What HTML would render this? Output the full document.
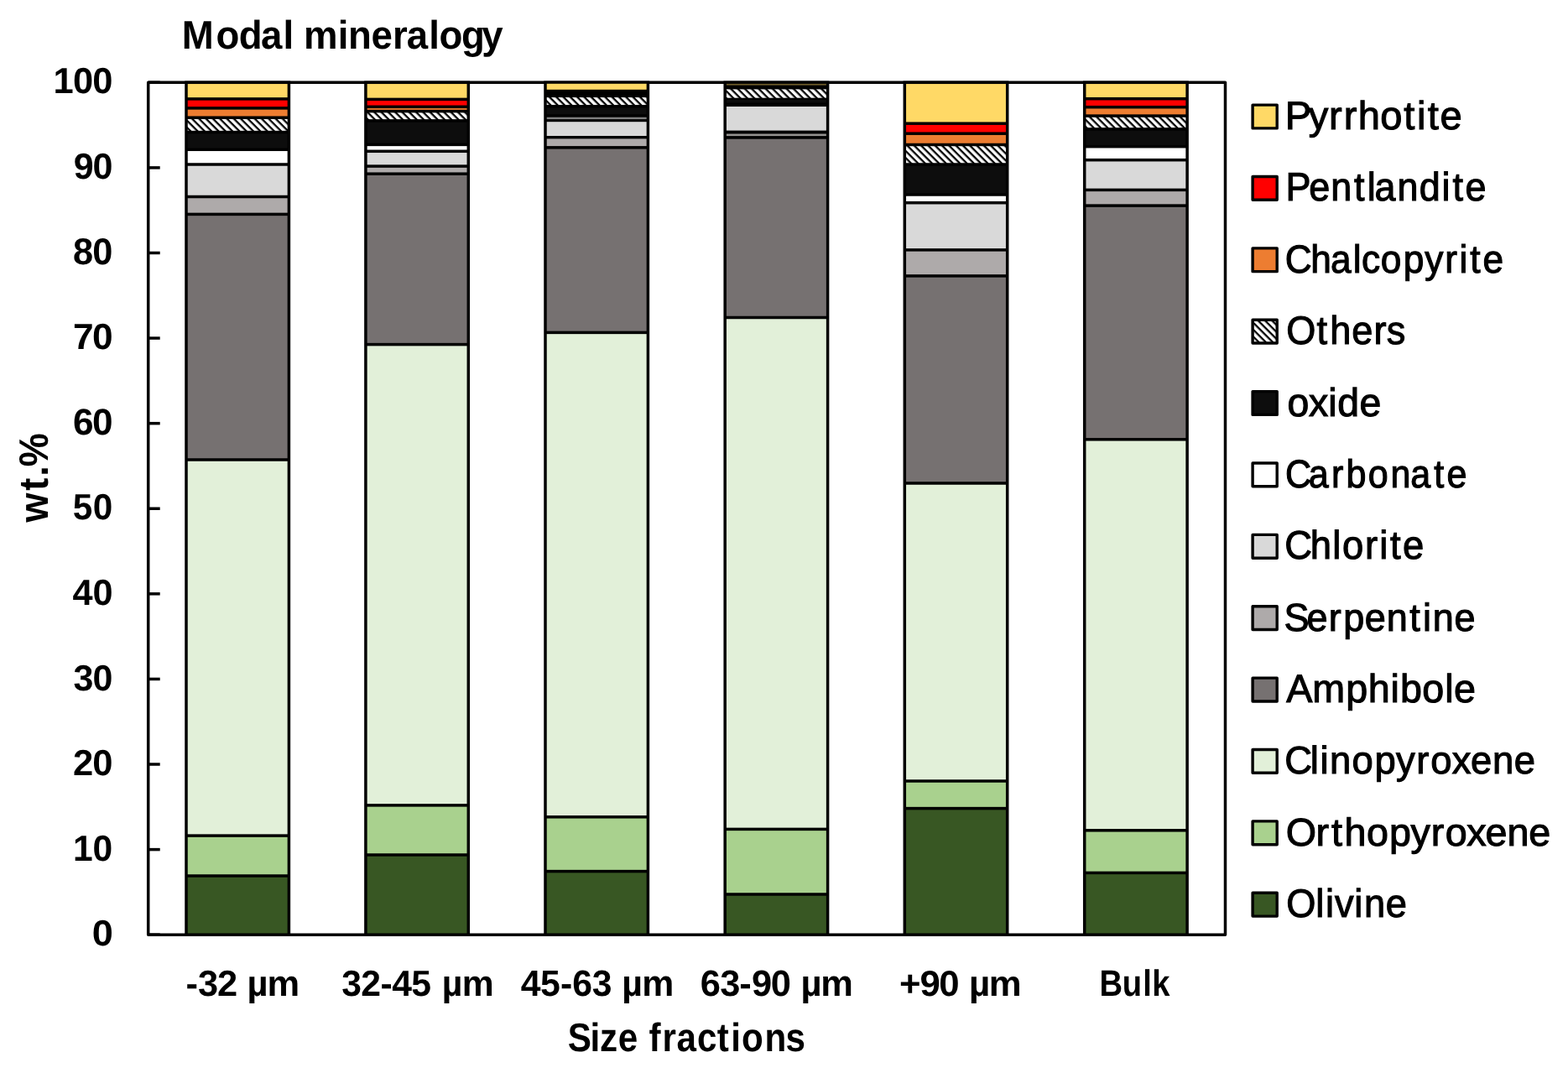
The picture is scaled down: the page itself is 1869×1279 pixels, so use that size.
<!DOCTYPE html>
<html><head><meta charset="utf-8"><title>Modal mineralogy</title>
<style>html,body{margin:0;padding:0;background:#fff;width:1869px;height:1279px;overflow:hidden}
svg{display:block}text{font-family:"Liberation Sans",Arial,sans-serif;fill:#000;text-rendering:geometricPrecision}</style></head><body>
<svg width="1869" height="1279" viewBox="0 0 1869 1279">
<defs><pattern id="hp0" patternUnits="userSpaceOnUse" width="20" height="5.87" patternTransform="translate(-2.244,0) rotate(45)"><rect width="20" height="5.87" fill="#fff"/><rect width="20" height="2.3" fill="#000"/></pattern><pattern id="hp1" patternUnits="userSpaceOnUse" width="20" height="5.87" patternTransform="translate(-1.244,0) rotate(45)"><rect width="20" height="5.87" fill="#fff"/><rect width="20" height="2.3" fill="#000"/></pattern><pattern id="hp2" patternUnits="userSpaceOnUse" width="20" height="5.87" patternTransform="translate(-6.994,0) rotate(45)"><rect width="20" height="5.87" fill="#fff"/><rect width="20" height="2.3" fill="#000"/></pattern><pattern id="hp3" patternUnits="userSpaceOnUse" width="20" height="5.87" patternTransform="translate(-5.044,0) rotate(45)"><rect width="20" height="5.87" fill="#fff"/><rect width="20" height="2.3" fill="#000"/></pattern><pattern id="hp4" patternUnits="userSpaceOnUse" width="20" height="5.87" patternTransform="translate(-3.644,0) rotate(45)"><rect width="20" height="5.87" fill="#fff"/><rect width="20" height="2.3" fill="#000"/></pattern><pattern id="hp5" patternUnits="userSpaceOnUse" width="20" height="5.87" patternTransform="translate(-1.044,0) rotate(45)"><rect width="20" height="5.87" fill="#fff"/><rect width="20" height="2.3" fill="#000"/></pattern><pattern id="hp6" patternUnits="userSpaceOnUse" width="20" height="5.87" patternTransform="translate(-1.594,0) rotate(45)"><rect width="20" height="5.87" fill="#fff"/><rect width="20" height="2.3" fill="#000"/></pattern></defs>
<rect width="1869" height="1279" fill="#fff"/>
<rect x="176.7" y="98.3" width="1283.8" height="1015.9" fill="#fff" stroke="#000" stroke-width="3.5" stroke-linejoin="round"/>
<line x1="176.7" y1="1114.20" x2="190.7" y2="1114.20" stroke="#000" stroke-width="3.5"/>
<line x1="176.7" y1="1012.61" x2="190.7" y2="1012.61" stroke="#000" stroke-width="3.5"/>
<line x1="176.7" y1="911.02" x2="190.7" y2="911.02" stroke="#000" stroke-width="3.5"/>
<line x1="176.7" y1="809.43" x2="190.7" y2="809.43" stroke="#000" stroke-width="3.5"/>
<line x1="176.7" y1="707.84" x2="190.7" y2="707.84" stroke="#000" stroke-width="3.5"/>
<line x1="176.7" y1="606.25" x2="190.7" y2="606.25" stroke="#000" stroke-width="3.5"/>
<line x1="176.7" y1="504.66" x2="190.7" y2="504.66" stroke="#000" stroke-width="3.5"/>
<line x1="176.7" y1="403.07" x2="190.7" y2="403.07" stroke="#000" stroke-width="3.5"/>
<line x1="176.7" y1="301.48" x2="190.7" y2="301.48" stroke="#000" stroke-width="3.5"/>
<line x1="176.7" y1="199.89" x2="190.7" y2="199.89" stroke="#000" stroke-width="3.5"/>
<line x1="176.7" y1="98.30" x2="190.7" y2="98.30" stroke="#000" stroke-width="3.5"/>
<rect x="220.25" y="96.55" width="125.90" height="1019.40" fill="#000"/>
<rect x="223.75" y="100.05" width="118.90" height="16.10" fill="#FFD966"/>
<rect x="223.75" y="119.65" width="118.90" height="7.50" fill="#FF0000"/>
<rect x="223.75" y="130.65" width="118.90" height="7.80" fill="#ED7D31"/>
<rect x="223.75" y="141.95" width="118.90" height="13.90" fill="url(#hp0)"/>
<rect x="223.75" y="159.35" width="118.90" height="17.20" fill="#0D0D0D"/>
<rect x="223.75" y="180.05" width="118.90" height="14.20" fill="#FFFFFF"/>
<rect x="223.75" y="197.75" width="118.90" height="35.00" fill="#D9D9D9"/>
<rect x="223.75" y="236.25" width="118.90" height="17.40" fill="#AEAAAA"/>
<rect x="223.75" y="257.15" width="118.90" height="289.10" fill="#767171"/>
<rect x="223.75" y="549.75" width="118.90" height="444.60" fill="#E2F0D9"/>
<rect x="223.75" y="997.85" width="118.90" height="44.40" fill="#A9D18E"/>
<rect x="223.75" y="1045.75" width="118.90" height="66.70" fill="#385723"/>
<rect x="434.15" y="96.55" width="125.90" height="1019.40" fill="#000"/>
<rect x="437.65" y="100.05" width="118.90" height="16.60" fill="#FFD966"/>
<rect x="437.65" y="120.15" width="118.90" height="5.40" fill="#FF0000"/>
<rect x="437.65" y="129.05" width="118.90" height="1.80" fill="#ED7D31"/>
<rect x="437.65" y="134.35" width="118.90" height="7.80" fill="url(#hp1)"/>
<rect x="437.65" y="145.65" width="118.90" height="25.00" fill="#0D0D0D"/>
<rect x="437.65" y="174.15" width="118.90" height="4.40" fill="#FFFFFF"/>
<rect x="437.65" y="182.05" width="118.90" height="14.30" fill="#D9D9D9"/>
<rect x="437.65" y="199.85" width="118.90" height="5.60" fill="#AEAAAA"/>
<rect x="437.65" y="208.95" width="118.90" height="199.90" fill="#767171"/>
<rect x="437.65" y="412.35" width="118.90" height="545.80" fill="#E2F0D9"/>
<rect x="437.65" y="961.65" width="118.90" height="55.60" fill="#A9D18E"/>
<rect x="437.65" y="1020.75" width="118.90" height="91.70" fill="#385723"/>
<rect x="648.25" y="96.55" width="125.90" height="1019.40" fill="#000"/>
<rect x="651.75" y="99.80" width="118.90" height="7.00" fill="#FFD966"/>
<rect x="651.75" y="116.10" width="118.90" height="8.90" fill="url(#hp2)"/>
<rect x="651.75" y="128.40" width="118.90" height="7.80" fill="#0D0D0D"/>
<rect x="651.75" y="139.70" width="118.90" height="2.40" fill="#7e7e7e"/>
<rect x="651.75" y="145.20" width="118.90" height="16.80" fill="#D9D9D9"/>
<rect x="651.75" y="165.40" width="118.90" height="8.70" fill="#AEAAAA"/>
<rect x="651.75" y="177.60" width="118.90" height="217.05" fill="#767171"/>
<rect x="651.75" y="398.15" width="118.90" height="573.90" fill="#E2F0D9"/>
<rect x="651.75" y="975.55" width="118.90" height="61.30" fill="#A9D18E"/>
<rect x="651.75" y="1040.35" width="118.90" height="72.10" fill="#385723"/>
<rect x="862.45" y="96.55" width="125.90" height="1019.40" fill="#000"/>
<rect x="865.95" y="99.90" width="118.90" height="1.70" fill="#6e5c2a"/>
<rect x="865.95" y="106.40" width="118.90" height="10.30" fill="url(#hp3)"/>
<rect x="865.95" y="119.00" width="118.90" height="3.60" fill="#0D0D0D"/>
<rect x="865.95" y="127.00" width="118.90" height="28.60" fill="#D9D9D9"/>
<rect x="865.95" y="159.50" width="118.90" height="2.60" fill="#93918f"/>
<rect x="865.95" y="165.70" width="118.90" height="211.05" fill="#767171"/>
<rect x="865.95" y="380.25" width="118.90" height="606.40" fill="#E2F0D9"/>
<rect x="865.95" y="990.15" width="118.90" height="74.10" fill="#A9D18E"/>
<rect x="865.95" y="1067.75" width="118.90" height="44.70" fill="#385723"/>
<rect x="1076.55" y="96.55" width="125.90" height="1019.40" fill="#000"/>
<rect x="1080.05" y="100.05" width="118.90" height="45.40" fill="#FFD966"/>
<rect x="1080.05" y="148.95" width="118.90" height="8.50" fill="#FF0000"/>
<rect x="1080.05" y="160.95" width="118.90" height="9.80" fill="#ED7D31"/>
<rect x="1080.05" y="174.25" width="118.90" height="20.00" fill="url(#hp4)"/>
<rect x="1080.05" y="197.75" width="118.90" height="32.50" fill="#0D0D0D"/>
<rect x="1080.05" y="233.75" width="118.90" height="6.20" fill="#FFFFFF"/>
<rect x="1080.05" y="243.45" width="118.90" height="52.70" fill="#D9D9D9"/>
<rect x="1080.05" y="299.65" width="118.90" height="27.50" fill="#AEAAAA"/>
<rect x="1080.05" y="330.65" width="118.90" height="243.60" fill="#767171"/>
<rect x="1080.05" y="577.75" width="118.90" height="351.50" fill="#E2F0D9"/>
<rect x="1080.05" y="932.75" width="118.90" height="29.10" fill="#A9D18E"/>
<rect x="1080.05" y="965.35" width="118.90" height="147.10" fill="#385723"/>
<rect x="1290.95" y="96.55" width="125.90" height="1019.40" fill="#000"/>
<rect x="1294.45" y="100.05" width="118.90" height="15.90" fill="#FFD966"/>
<rect x="1294.45" y="119.45" width="118.90" height="6.50" fill="#FF0000"/>
<rect x="1294.45" y="129.45" width="118.90" height="6.90" fill="#ED7D31"/>
<rect x="1294.45" y="139.85" width="118.90" height="12.30" fill="url(#hp5)"/>
<rect x="1294.45" y="155.65" width="118.90" height="17.30" fill="#0D0D0D"/>
<rect x="1294.45" y="176.45" width="118.90" height="12.50" fill="#FFFFFF"/>
<rect x="1294.45" y="192.45" width="118.90" height="32.20" fill="#D9D9D9"/>
<rect x="1294.45" y="228.15" width="118.90" height="15.20" fill="#AEAAAA"/>
<rect x="1294.45" y="246.85" width="118.90" height="275.20" fill="#767171"/>
<rect x="1294.45" y="525.55" width="118.90" height="462.50" fill="#E2F0D9"/>
<rect x="1294.45" y="991.55" width="118.90" height="47.10" fill="#A9D18E"/>
<rect x="1294.45" y="1042.15" width="118.90" height="70.30" fill="#385723"/>
<rect x="1493.1" y="125.10" width="29.1" height="27.8" fill="#FFD966" stroke="#000" stroke-width="3.4" stroke-linejoin="round"/>
<rect x="1493.1" y="210.48" width="29.1" height="27.8" fill="#FF0000" stroke="#000" stroke-width="3.4" stroke-linejoin="round"/>
<rect x="1493.1" y="295.86" width="29.1" height="27.8" fill="#ED7D31" stroke="#000" stroke-width="3.4" stroke-linejoin="round"/>
<rect x="1493.1" y="381.24" width="29.1" height="27.8" fill="url(#hp6)" stroke="#000" stroke-width="3.4" stroke-linejoin="round"/>
<rect x="1493.1" y="466.62" width="29.1" height="27.8" fill="#0D0D0D" stroke="#000" stroke-width="3.4" stroke-linejoin="round"/>
<rect x="1493.1" y="552.00" width="29.1" height="27.8" fill="#FFFFFF" stroke="#000" stroke-width="3.4" stroke-linejoin="round"/>
<rect x="1493.1" y="637.38" width="29.1" height="27.8" fill="#D9D9D9" stroke="#000" stroke-width="3.4" stroke-linejoin="round"/>
<rect x="1493.1" y="722.76" width="29.1" height="27.8" fill="#AEAAAA" stroke="#000" stroke-width="3.4" stroke-linejoin="round"/>
<rect x="1493.1" y="808.14" width="29.1" height="27.8" fill="#767171" stroke="#000" stroke-width="3.4" stroke-linejoin="round"/>
<rect x="1493.1" y="893.52" width="29.1" height="27.8" fill="#E2F0D9" stroke="#000" stroke-width="3.4" stroke-linejoin="round"/>
<rect x="1493.1" y="978.90" width="29.1" height="27.8" fill="#A9D18E" stroke="#000" stroke-width="3.4" stroke-linejoin="round"/>
<rect x="1493.1" y="1064.28" width="29.1" height="27.8" fill="#385723" stroke="#000" stroke-width="3.4" stroke-linejoin="round"/>
<text transform="translate(1534.10,154.00) scale(0.4705,0.4728)" x="-4.89 54.71 106.10 143.56 179.70 236.00 295.79 329.29 356.44 387.81" y="0" font-size="100" font-weight="normal" stroke="#000" stroke-width="2.332">Pyrrhotite</text>
<text transform="translate(1534.10,239.38) scale(0.4496,0.4748)" x="-3.49 58.38 116.10 177.61 212.55 232.43 292.51 350.45 410.33 438.90 472.36" y="0" font-size="100" font-weight="normal" stroke="#000" stroke-width="2.380">Pentlandite</text>
<text transform="translate(1534.10,324.76) scale(0.4426,0.4691)" x="-5.54 63.38 117.17 177.60 200.99 252.45 313.31 371.12 425.39 463.84 492.91 527.11" y="0" font-size="100" font-weight="normal" stroke="#000" stroke-width="2.413">Chalcopyrite</text>
<text transform="translate(1534.10,410.14) scale(0.4507,0.4725)" x="-1.73 78.71 113.77 170.99 229.48 263.05" y="0" font-size="100" font-weight="normal" stroke="#000" stroke-width="2.383">Others</text>
<text transform="translate(1534.10,495.52) scale(0.4639,0.4704)" x="0.92 56.04 106.00 129.74 186.34" y="0" font-size="100" font-weight="normal" stroke="#000" stroke-width="2.355">oxide</text>
<text transform="translate(1534.10,580.90) scale(0.4310,0.4679)" x="-4.70 59.50 122.64 163.50 224.36 286.45 341.68 406.21 441.69" y="0" font-size="100" font-weight="normal" stroke="#000" stroke-width="2.448">Carbonate</text>
<text transform="translate(1534.10,666.28) scale(0.4537,0.4754)" x="-6.31 61.13 119.58 145.07 205.00 242.71 270.98 304.01" y="0" font-size="100" font-weight="normal" stroke="#000" stroke-width="2.368">Chlorite</text>
<text transform="translate(1534.10,751.66) scale(0.4503,0.4652)" x="-8.00 51.82 110.35 148.96 205.79 263.41 324.84 359.69 385.75 442.96" y="0" font-size="100" font-weight="normal" stroke="#000" stroke-width="2.403">Serpentine</text>
<text transform="translate(1534.10,837.04) scale(0.4664,0.4723)" x="-1.97 64.75 150.60 207.15 264.44 289.43 345.75 403.44 426.29" y="0" font-size="100" font-weight="normal" stroke="#000" stroke-width="2.344">Amphibole</text>
<text transform="translate(1534.10,922.42) scale(0.4538,0.4624)" x="-6.31 61.05 86.59 112.33 170.63 229.97 286.45 339.53 377.18 433.46 482.64 539.83 596.60" y="0" font-size="100" font-weight="normal" stroke="#000" stroke-width="2.401">Clinopyroxene</text>
<text transform="translate(1534.10,1007.80) scale(0.4666,0.4634)" x="-3.01 73.87 113.30 146.68 203.44 261.11 316.14 367.91 404.28 459.09 506.83 562.44 617.65" y="0" font-size="100" font-weight="normal" stroke="#000" stroke-width="2.366">Orthopyroxene</text>
<text transform="translate(1534.10,1093.18) scale(0.4524,0.4720)" x="-1.87 75.68 101.29 125.52 177.41 203.28 260.23" y="0" font-size="100" font-weight="normal" stroke="#000" stroke-width="2.380">Olivine</text>
<text transform="translate(213.44,57.90) scale(0.4556,0.4755)" x="7.08 96.89 156.37 214.28 272.17 299.68 326.06 415.37 442.64 502.87 558.97 595.64 653.53 680.47 738.85 792.14" y="0" font-size="100" font-weight="bold">Modal mineralogy</text>
<text transform="translate(679.01,1252.70) scale(0.4222,0.4771)" x="-5.10 57.72 85.21 136.52 194.83 223.85 261.85 302.03 360.17 416.53 455.21 485.72 550.65 609.63" y="0" font-size="100" font-weight="bold">Size fractions</text>
<text transform="translate(221.74,1186.60) scale(0.4346,0.4330)" x="-0.36 32.70 85.53 140.00 167.69 222.68" y="0" font-size="100" font-weight="bold">-32 µm</text>
<text transform="translate(406.91,1186.60) scale(0.4267,0.4336)" x="0.73 54.54 109.45 141.25 195.58 252.10 280.84 337.14" y="0" font-size="100" font-weight="bold">32-45 µm</text>
<text transform="translate(621.39,1186.60) scale(0.4281,0.4368)" x="-1.43 52.73 109.03 142.15 197.33 251.27 279.81 335.87" y="0" font-size="100" font-weight="bold">45-63 µm</text>
<text transform="translate(834.81,1186.60) scale(0.4350,0.4361)" x="-0.41 53.91 107.04 140.77 192.69 247.28 274.92 329.84" y="0" font-size="100" font-weight="bold">63-90 µm</text>
<text transform="translate(1073.29,1186.60) scale(0.4373,0.4284)" x="-3.07 53.25 104.90 159.35 186.68 241.23" y="0" font-size="100" font-weight="bold">+90 µm</text>
<text transform="translate(1311.29,1186.60) scale(0.3818,0.4397)" x="-1.81 69.22 133.48 162.51" y="0" font-size="100" font-weight="bold">Bulk</text>
<text transform="translate(110.68,1127.30) scale(0.4515,0.4329)" x="-1.86" y="0" font-size="100" font-weight="bold">0</text>
<text transform="translate(87.32,1025.71) scale(0.4256,0.4340)" x="-0.53 54.61" y="0" font-size="100" font-weight="bold">10</text>
<text transform="translate(87.32,924.12) scale(0.4355,0.4329)" x="-0.77 52.74" y="0" font-size="100" font-weight="bold">20</text>
<text transform="translate(87.32,822.53) scale(0.4298,0.4329)" x="0.53 53.82" y="0" font-size="100" font-weight="bold">30</text>
<text transform="translate(87.32,720.94) scale(0.4322,0.4339)" x="-1.68 53.37" y="0" font-size="100" font-weight="bold">40</text>
<text transform="translate(87.32,619.35) scale(0.4224,0.4337)" x="-1.50 55.23" y="0" font-size="100" font-weight="bold">50</text>
<text transform="translate(87.32,517.76) scale(0.4412,0.4418)" x="-0.79 51.70" y="0" font-size="100" font-weight="bold">60</text>
<text transform="translate(87.32,416.17) scale(0.4422,0.4337)" x="-0.63 51.52" y="0" font-size="100" font-weight="bold">70</text>
<text transform="translate(87.32,314.58) scale(0.4340,0.4444)" x="-0.94 53.03" y="0" font-size="100" font-weight="bold">80</text>
<text transform="translate(87.32,212.99) scale(0.4306,0.4329)" x="1.20 53.67" y="0" font-size="100" font-weight="bold">90</text>
<text transform="translate(63.95,111.40) scale(0.4344,0.4337)" x="-1.12 52.95 106.73" y="0" font-size="100" font-weight="bold">100</text>
<text transform="translate(56.70,623.87) rotate(-90) scale(0.4503,0.4902)" x="3.18 86.65 124.38 150.02" y="0" font-size="100" font-weight="bold">wt.%</text>
</svg></body></html>
